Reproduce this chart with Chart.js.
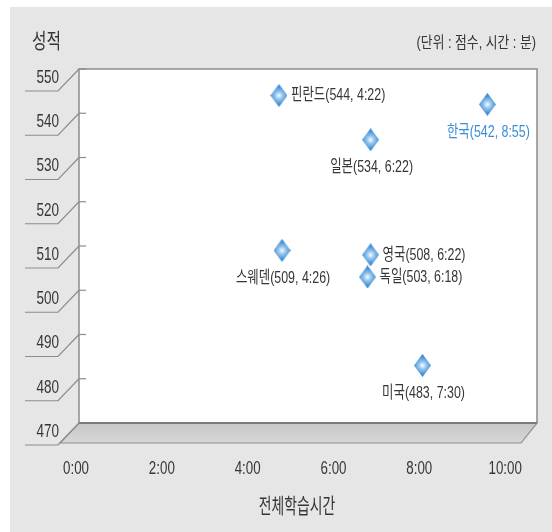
<!DOCTYPE html>
<html lang="ko">
<head>
<meta charset="utf-8">
<title>전체학습시간과 성적</title>
<script src="https://cdn.jsdelivr.net/npm/chart.js@4"></script>
<style>
  html, body { margin: 0; padding: 0; background: #ffffff; }
  canvas { display: block; }
</style>
</head>
<body>
<canvas id="chart" width="552" height="532"></canvas>
<script>
// 국가별 성적과 전체 학습시간
const countries  = ['핀란드', '한국', '일본', '스웨덴', '영국', '독일', '미국'];
const scores     = [544, 542, 534, 509, 508, 503, 483];
const studyTimes = ['4:22', '8:55', '6:22', '4:26', '6:22', '6:18', '7:30'];

// 축 눈금
const xTickValues = [0, 2, 4, 6, 8, 10];
const xTickLabels = ['0:00', '2:00', '4:00', '6:00', '8:00', '10:00'];
const yTickValues = [470, 480, 490, 500, 510, 520, 530, 540, 550];
const yTickLabels = ['470', '480', '490', '500', '510', '520', '530', '540', '550'];

// "h:mm" → 시간 단위
function toHours(t) {
  const [h, m] = t.split(':').map(Number);
  return h + m / 60;
}

const points = countries.map((c, i) => ({ x: toHours(studyTimes[i]), y: scores[i] }));

const FONT = '"Liberation Sans", "Noto Sans CJK KR", sans-serif';
const TEXT = '#363636';
const EDGE = '#8c8c8c';
const DEPTH_X = -19, DEPTH_Y = 20;

// 장체(가로로 좁힌) 글자 그리기
function drawNarrow(ctx, text, x, y, size, align, sx, color) {
  ctx.save();
  ctx.font = size + 'px ' + FONT;
  ctx.fillStyle = color || TEXT;
  ctx.textBaseline = 'middle';
  ctx.textAlign = 'left';
  const w = ctx.measureText(text).width * sx;
  let x0 = x;
  if (align === 'center') x0 = x - w / 2;
  else if (align === 'right') x0 = x - w;
  ctx.translate(x0, y);
  ctx.scale(sx, 1);
  ctx.fillText(text, 0, 0);
  ctx.restore();
}

// 그라데이션 마름모 마커
function makeDiamond(w, h) {
  const c = document.createElement('canvas');
  c.width = w; c.height = h;
  const g = c.getContext('2d');
  g.beginPath();
  g.moveTo(w / 2, 0);
  g.lineTo(w, h / 2);
  g.lineTo(w / 2, h);
  g.lineTo(0, h / 2);
  g.closePath();
  const grad = g.createRadialGradient(w / 2, h / 2, 0.5, w / 2, h / 2, h / 2);
  grad.addColorStop(0, '#eef7fe');
  grad.addColorStop(0.3, '#94c5ee');
  grad.addColorStop(0.7, '#4b94d7');
  grad.addColorStop(1, '#3a83c8');
  g.fillStyle = grad;
  g.fill();
  return c;
}
const diamond = makeDiamond(17, 23);

// 라벨 위치 (점 기준)
const labelPlacement = {
  '핀란드': 'right', '한국': 'below', '일본': 'below', '스웨덴': 'below',
  '영국': 'right', '독일': 'right', '미국': 'below'
};

const framePlugin = {
  id: 'frame',
  beforeDraw(chart) {
    const ctx = chart.ctx;
    const { left, right, top, bottom } = chart.chartArea;
    const ys = chart.scales.y;
    const xs = chart.scales.x;
    ctx.save();
    // 배경
    ctx.fillStyle = '#e6e6e6';
    ctx.fillRect(10, 7, chart.width - 10, chart.height - 7);

    // 바닥면
    const floorGrad = ctx.createLinearGradient(0, bottom, 0, bottom + DEPTH_Y);
    floorGrad.addColorStop(0, '#c6c6c6');
    floorGrad.addColorStop(1, '#d8d8d8');
    ctx.beginPath();
    ctx.moveTo(left, bottom);
    ctx.lineTo(right, bottom);
    ctx.lineTo(right + DEPTH_X + 3, bottom + DEPTH_Y);
    ctx.lineTo(left + DEPTH_X, bottom + DEPTH_Y);
    ctx.closePath();
    ctx.fillStyle = floorGrad;
    ctx.fill();
    ctx.strokeStyle = EDGE;
    ctx.lineWidth = 1.2;
    ctx.stroke();

    // 뒷벽
    ctx.fillStyle = '#ffffff';
    ctx.fillRect(left, top, right - left, bottom - top);
    ctx.strokeStyle = EDGE;
    ctx.lineWidth = 1.5;
    ctx.beginPath();
    ctx.moveTo(left, bottom);
    ctx.lineTo(left, top);
    ctx.lineTo(right, top);
    ctx.lineTo(right, bottom);
    ctx.stroke();
    ctx.strokeStyle = '#7a7a7a';
    ctx.lineWidth = 2;
    ctx.beginPath();
    ctx.moveTo(left, bottom);
    ctx.lineTo(right, bottom);
    ctx.stroke();

    // y축 눈금과 라벨
    yTickValues.forEach((v, i) => {
      const py = ys.getPixelForValue(v);
      ctx.strokeStyle = EDGE;
      ctx.lineWidth = 1.2;
      if (v !== yTickValues[0]) {
        ctx.beginPath();
        ctx.moveTo(left, py);
        ctx.lineTo(left + 7, py);
        ctx.stroke();
      }
      ctx.beginPath();
      ctx.moveTo(left, py);
      ctx.lineTo(left + DEPTH_X - 2, py + DEPTH_Y + 2);
      ctx.lineTo(25, py + DEPTH_Y + 2);
      ctx.stroke();
      drawNarrow(ctx, yTickLabels[i], left + DEPTH_X - 1, py + DEPTH_Y - 11, 18, 'right', 0.75);
    });

    // x축 라벨
    xTickValues.forEach((v, i) => {
      const px = xs.getPixelForValue(v);
      const fx = 76 + (px - left) * 0.937;
      drawNarrow(ctx, xTickLabels[i], fx, 469, 18, 'center', 0.74);
    });

    // 제목들
    drawNarrow(ctx, '성적', 32, 42, 21, 'left', 0.75);
    drawNarrow(ctx, '(단위 : 점수, 시간 : 분)', 536, 44, 16, 'right', 0.8);
    drawNarrow(ctx, '전체학습시간', 297, 507, 21, 'center', 0.66);
    ctx.restore();
  },
  afterDatasetsDraw(chart) {
    const ctx = chart.ctx;
    const meta = chart.getDatasetMeta(0);
    meta.data.forEach((el, i) => {
      const name = countries[i];
      const text = `${name}(${scores[i]}, ${studyTimes[i]})`;
      const color = name === '한국' ? '#3a8ed3' : TEXT;
      if (labelPlacement[name] === 'right') {
        drawNarrow(ctx, text, el.x + 12, el.y, 17, 'left', 0.73, color);
      } else {
        drawNarrow(ctx, text, el.x + 1, el.y + 28, 17, 'center', 0.73, color);
      }
    });
  }
};

new Chart(document.getElementById('chart'), {
  type: 'scatter',
  data: {
    datasets: [{
      data: points,
      pointStyle: diamond,
      pointRadius: 10,
      pointHoverRadius: 10
    }]
  },
  options: {
    responsive: false,
    devicePixelRatio: 1,
    animation: false,
    layout: { padding: { left: 79, right: 15, top: 69, bottom: 109 } },
    plugins: { legend: { display: false }, tooltip: { enabled: false } },
    scales: {
      x: { type: 'linear', min: 0, max: 10, display: false },
      y: { type: 'linear', min: 470, max: 550, display: false }
    }
  },
  plugins: [framePlugin]
});
</script>
</body>
</html>
